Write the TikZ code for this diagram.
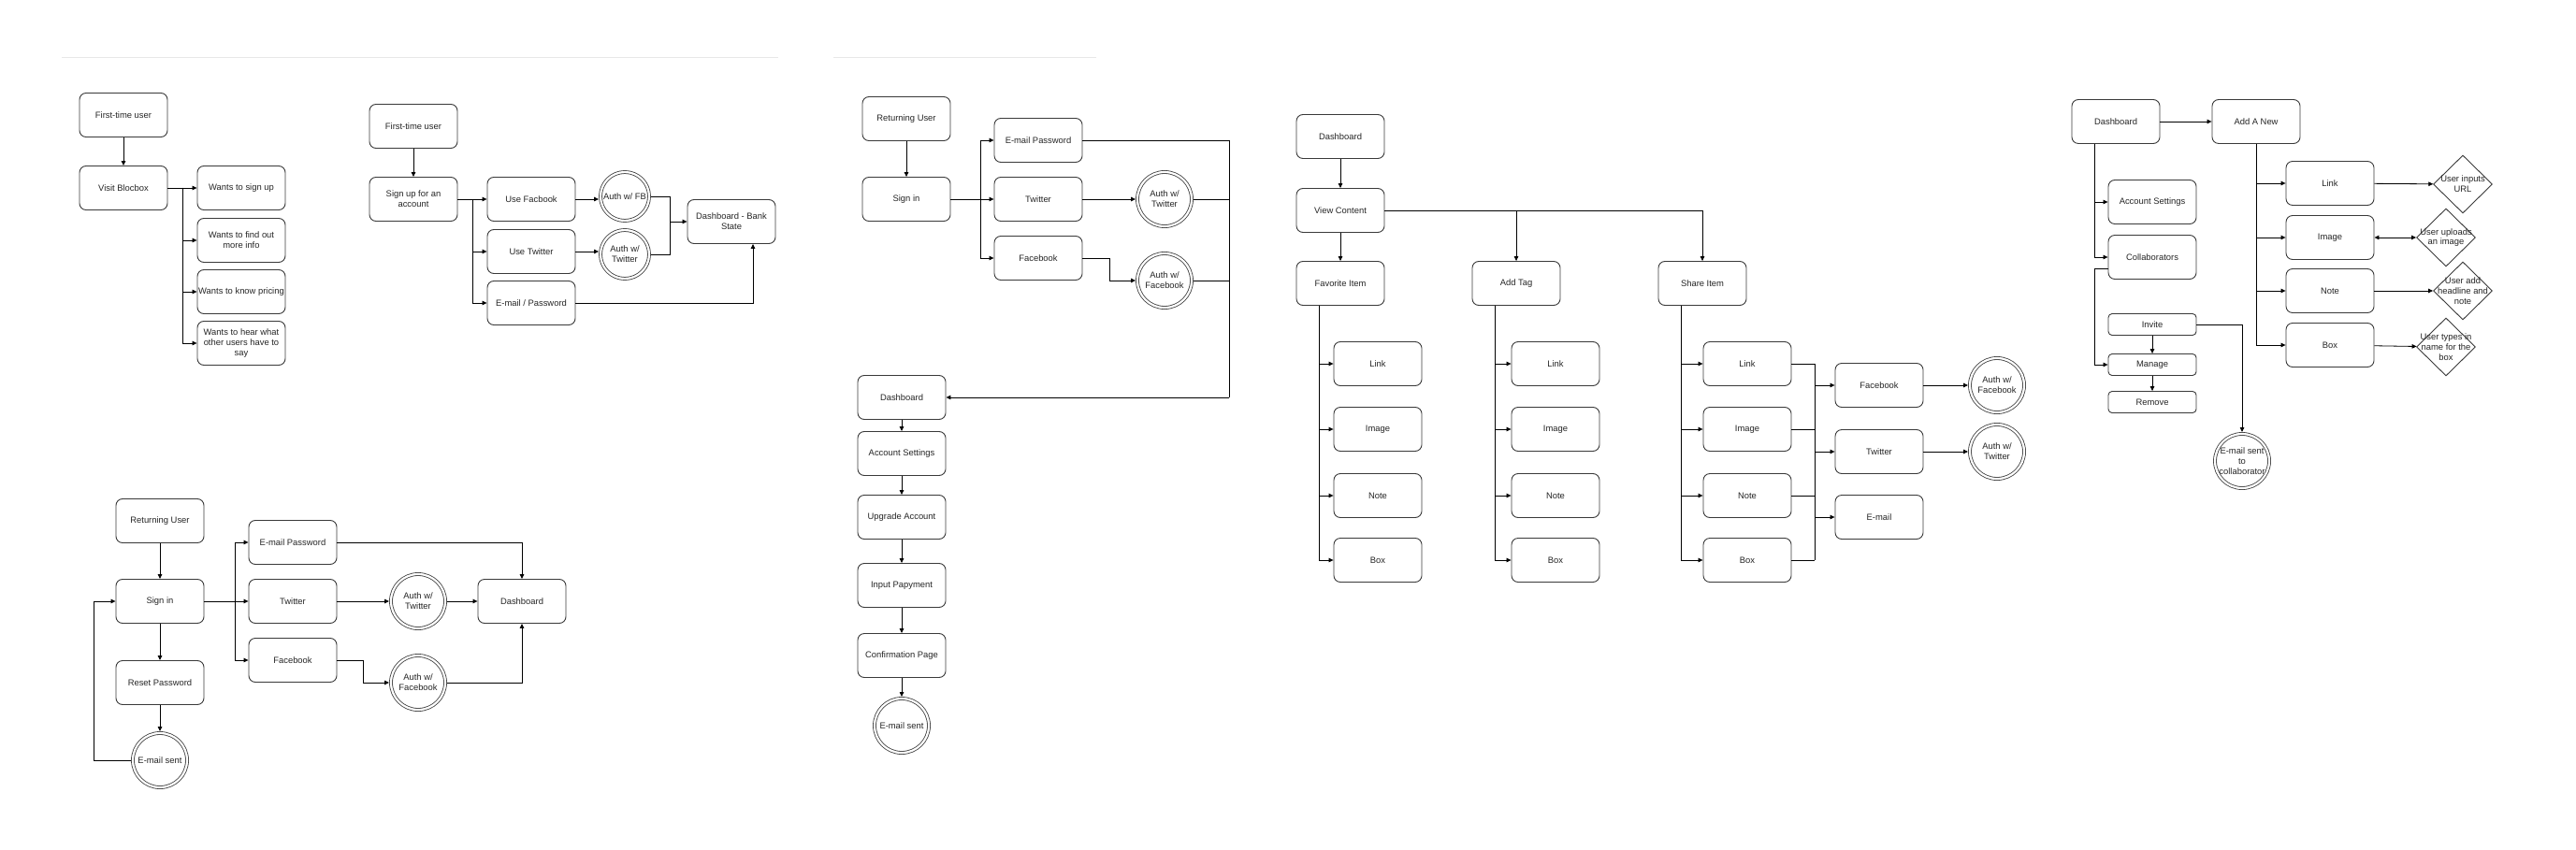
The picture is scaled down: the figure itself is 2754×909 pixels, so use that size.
\documentclass[tikz,border=0pt]{standalone}
\usepackage{fontspec}
\setmainfont{Liberation Sans}
\usetikzlibrary{arrows.meta,shapes.geometric}
\definecolor{boxline}{HTML}{3A3A3A}
\definecolor{txt}{HTML}{262626}
\definecolor{rulegray}{HTML}{E8E8E8}
\begin{document}
\begin{tikzpicture}[x=1pt,y=-1pt,
	lbl/.style={align=center,text=txt,font=\fontsize{9.4}{10.8}\selectfont},
	box/.style={lbl,draw=boxline,line width=0.9pt,rounded corners=7pt,minimum width=94pt,minimum height=47pt,inner sep=1pt},
	smallbox/.style={box,rounded corners=4pt,minimum height=23pt},
	endcirc/.style={lbl,circle,draw=boxline,line width=0.8pt,double=white,double distance=2.2pt,minimum size=58pt,inner sep=0pt,outer sep=2pt},
	choice/.style={diamond,draw=boxline,line width=0.9pt,minimum width=63pt,minimum height=62pt,inner sep=0pt},
	arr/.style={line width=0.8pt,-{Stealth[length=5pt,width=4.5pt,inset=0pt]}},
	dblarr/.style={line width=0.8pt,{Stealth[length=5pt,width=4.5pt,inset=0pt]}-{Stealth[length=5pt,width=4.5pt,inset=0pt]}},
	line/.style={line width=0.8pt}]
	\useasboundingbox (0,0) rectangle (2754,909);
	\fill[white] (0,0) rectangle (2754,909);
	\draw[rulegray,line width=1pt] (66,62) -- (832,62);
	\draw[rulegray,line width=1pt] (891,62) -- (1172,62);

	\node[box] (ftu) at (132,123) {First-time user};
	\node[box] (visit) at (132,201) {Visit Blocbox};
	\node[box] (signupwant) at (258,201) {Wants to sign up};
	\node[box] (infowant) at (258,257) {Wants to find out\\more info};
	\node[box] (pricewant) at (258,312) {Wants to know pricing};
	\node[box] (hearwant) at (258,367) {Wants to hear what\\other users have to\\say};
	\coordinate (abranch) at (195,201);
	\draw[arr] (ftu) -- (visit);
	\draw[line] (visit) -- (abranch);
	\draw[arr] (abranch) -- (signupwant);
	\draw[arr] (abranch) |- (infowant);
	\draw[arr] (abranch) |- (pricewant);
	\draw[arr] (abranch) |- (hearwant);

	\node[box] (ftu2) at (442,135) {First-time user};
	\node[box] (signup) at (442,213) {Sign up for an\\account};
	\node[box] (usefb) at (568,213) {Use Facbook};
	\node[box] (usetw) at (568,269) {Use Twitter};
	\node[box] (usemail) at (568,324) {E-mail / Password};
	\node[endcirc,minimum size=52pt] (authfb) at (668,210) {Auth w/ FB};
	\node[endcirc,minimum size=52pt] (authtw) at (668,272) {Auth w/\\Twitter};
	\node[box] (dashbank) at (782,237) {Dashboard - Bank\\State};
	\coordinate (bbranch) at (505,213);
	\coordinate (bmerge) at (716,237);
	\draw[arr] (ftu2) -- (signup);
	\draw[line] (signup) -- (bbranch);
	\draw[arr] (bbranch) -- (usefb);
	\draw[arr] (bbranch) |- (usetw);
	\draw[arr] (bbranch) |- (usemail);
	\draw[arr] (usefb) -- (usefb -| authfb.west);
	\draw[arr] (usetw) -- (usetw -| authtw.west);
	\draw[line] (authfb) -| (bmerge);
	\draw[line] (authtw) -| (bmerge);
	\draw[arr] (bmerge) -- (dashbank);
	\draw[arr] (usemail) -| ([xshift=23pt]dashbank.south);

	\node[box] (retuser) at (171,557) {Returning User};
	\node[box] (signin) at (171,643) {Sign in};
	\node[box] (reset) at (171,730) {Reset Password};
	\node[endcirc] (mailsent) at (171,813) {E-mail sent};
	\node[box] (cmail) at (313,580) {E-mail Password};
	\node[box] (ctw) at (313,643) {Twitter};
	\node[box] (cfb) at (313,706) {Facebook};
	\node[endcirc] (cauthtw) at (447,643) {Auth w/\\Twitter};
	\node[endcirc] (cauthfb) at (447,730) {Auth w/\\Facebook};
	\node[box] (cdash) at (558,643) {Dashboard};
	\coordinate (cloop) at (100,813);
	\coordinate (cbranch) at (251,643);
	\coordinate (cjog) at (388,706);
	\draw[arr] (retuser) -- (signin);
	\draw[arr] (signin) -- (reset);
	\draw[arr] (reset) -- (mailsent);
	\draw[line] (mailsent) -- (cloop);
	\draw[arr] (cloop) |- (signin);
	\draw[line] (signin) -- (cbranch);
	\draw[arr] (cbranch) |- (cmail);
	\draw[arr] (cbranch) -- (ctw);
	\draw[arr] (cbranch) |- (cfb);
	\draw[arr] (cmail) -| (cdash);
	\draw[arr] (ctw) -- (cauthtw);
	\draw[arr] (cauthtw) -- (cdash);
	\draw[line] (cfb) -- (cjog);
	\draw[arr] (cjog) |- (cauthfb);
	\draw[arr] (cauthfb) -| (cdash);

	\node[box] (druser) at (969,127) {Returning User};
	\node[box] (dsignin) at (969,213) {Sign in};
	\node[box] (dmail) at (1110,150) {E-mail Password};
	\node[box] (dtw) at (1110,213) {Twitter};
	\node[box] (dfb) at (1110,276) {Facebook};
	\node[endcirc] (dauthtw) at (1245,213) {Auth w/\\Twitter};
	\node[endcirc] (dauthfb) at (1245,300) {Auth w/\\Facebook};
	\node[box] (ddash) at (964,425) {Dashboard};
	\node[box] (dacct) at (964,485) {Account Settings};
	\node[box] (dupg) at (964,553) {Upgrade Account};
	\node[box] (dpay) at (964,626) {Input Papyment};
	\node[box] (dconf) at (964,701) {Confirmation Page};
	\node[endcirc] (dsent) at (964,776) {E-mail sent};
	\coordinate (dbranch) at (1048,213);
	\coordinate (djog) at (1186,276);
	\coordinate (dcollect) at (1314,425);
	\draw[arr] (druser) -- (dsignin);
	\draw[line] (dsignin) -- (dbranch);
	\draw[arr] (dbranch) |- (dmail);
	\draw[arr] (dbranch) -- (dtw);
	\draw[arr] (dbranch) |- (dfb);
	\draw[arr] (dtw) -- (dauthtw);
	\draw[line] (dfb) -- (djog);
	\draw[arr] (djog) |- (dauthfb);
	\draw[line] (dmail) -| (dcollect);
	\draw[line] (dauthtw) -- (dauthtw -| dcollect);
	\draw[line] (dauthfb) -- (dauthfb -| dcollect);
	\draw[arr] (dcollect) -- (ddash);
	\draw[arr] (ddash) -- (dacct);
	\draw[arr] (dacct) -- (dupg);
	\draw[arr] (dupg) -- (dpay);
	\draw[arr] (dpay) -- (dconf);
	\draw[arr] (dconf) -- (dsent);

	\node[box] (edash) at (1433,146) {Dashboard};
	\node[box] (eview) at (1433,225) {View Content};
	\node[box] (efav) at (1433,303) {Favorite Item};
	\node[box] (etag) at (1621,303) {Add Tag};
	\node[box] (eshare) at (1820,303) {Share Item};
	\draw[arr] (edash) -- (eview);
	\draw[arr] (eview) -- (efav);
	\draw[arr] (eview) -| (etag);
	\draw[arr] (eview) -| (eshare);
	\foreach \col/\cx in {fav/1473,tag/1663,share/1868}
		\foreach \kind/\txt/\cy in {link/Link/389,image/Image/459,note/Note/530,box/Box/599}
			{\node[box] (\col\kind) at (\cx,\cy) {\txt};
			\draw[arr] ([xshift=-23pt]e\col.south) |- (\col\kind);}
	\node[box] (efb) at (2009,412) {Facebook};
	\node[box] (etw) at (2009,483) {Twitter};
	\node[box] (email) at (2009,553) {E-mail};
	\node[endcirc] (eauthfb) at (2135,412) {Auth w/\\Facebook};
	\node[endcirc] (eauthtw) at (2135,483) {Auth w/\\Twitter};
	\coordinate (etop) at (1940,389);
	\coordinate (ebot) at (1940,599);
	\draw[line] (etop) -- (ebot);
	\foreach \kind in {link,image,note,box}
		\draw[line] (share\kind) -- (share\kind -| etop);
	\draw[arr] (efb -| etop) -- (efb);
	\draw[arr] (etw -| etop) -- (etw);
	\draw[arr] (email -| etop) -- (email);
	\draw[arr] (efb) -- (eauthfb);
	\draw[arr] (etw) -- (eauthtw);

	\node[box] (fdash) at (2262,130) {Dashboard};
	\node[box] (fnew) at (2412,130) {Add A New};
	\node[box] (facct) at (2301,216) {Account Settings};
	\node[box] (fcollab) at (2301,275) {Collaborators};
	\node[smallbox] (finvite) at (2301,347) {Invite};
	\node[smallbox] (fmanage) at (2301,390) {Manage};
	\node[smallbox] (fremove) at (2301,430) {Remove};
	\node[endcirc] (fsent) at (2397,493) {E-mail sent\\to\\collaborator};
	\node[box] (flink) at (2491,196) {Link};
	\node[box] (fimage) at (2491,254) {Image};
	\node[box] (fnote) at (2491,311) {Note};
	\node[box] (fbox) at (2491,369) {Box};
	\node[choice,label={[lbl]center:{User inputs\\URL}}] (furl) at (2633,197) {};
	\node[choice,label={[lbl]center:{User uploads\\an image}}] (fupload) at (2615,254) {};
	\node[choice,label={[lbl]center:{User add\\headline and\\note}}] (fheadline) at (2633,311) {};
	\node[choice,label={[lbl]center:{User types in\\name for the\\box}}] (fname) at (2615,371) {};
	\coordinate (fjog) at (2239,287);
	\draw[arr] (fdash) -- (fnew);
	\draw[arr] ([xshift=-23pt]fdash.south) |- (facct);
	\draw[arr] ([xshift=-23pt]fdash.south) |- (fcollab);
	\draw[line] ([yshift=-12pt]fcollab.west) -- (fjog);
	\draw[arr] (fjog) |- (fmanage);
	\draw[arr] (finvite) -- (fmanage);
	\draw[arr] (fmanage) -- (fremove);
	\draw[arr] (finvite) -| (fsent);
	\draw[arr] (fnew) |- (flink);
	\draw[arr] (fnew) |- (fimage);
	\draw[arr] (fnew) |- (fnote);
	\draw[arr] (fnew) |- (fbox);
	\draw[arr] (flink) -- (furl);
	\draw[dblarr] (fimage) -- (fupload);
	\draw[arr] (fnote) -- (fheadline);
	\draw[arr] (fbox) -- (fname);
\end{tikzpicture}
\end{document}
